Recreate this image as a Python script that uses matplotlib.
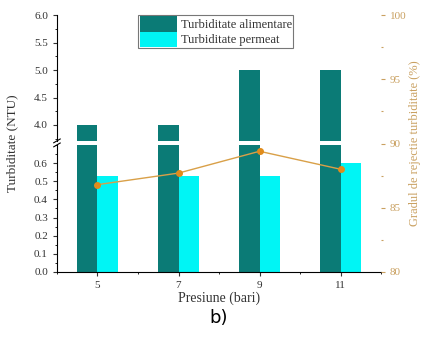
import numpy as np
import matplotlib
matplotlib.use('Agg')
import matplotlib.pyplot as plt
from matplotlib.ticker import MultipleLocator, FormatStrFormatter

plt.rcParams['font.family'] = ['Liberation Serif', 'DejaVu Serif']

# data
presiune = [5, 7, 9, 11]
turb_alimentare = [4.0, 4.0, 5.0, 5.0]
turb_permeat = [0.53, 0.53, 0.53, 0.60]
grad_rejectie = [86.8, 87.7, 89.4, 88.0]

c_alim = '#0b7b76'
c_perm = '#00f5f5'
c_line = '#d9a048'
c_mark = '#e08c1c'
c_right = '#c9a060'
c_text = '#333333'

fig = plt.figure(figsize=(4.22, 3.37), dpi=100)
ax_low = fig.add_axes([0.135, 0.193, 0.768, 0.377])
ax_high = fig.add_axes([0.135, 0.582, 0.768, 0.373])
ax_r = fig.add_axes([0.135, 0.193, 0.768, 0.762], frameon=False)

w = 0.5
for ax in (ax_low, ax_high):
    ax.bar(presiune, turb_alimentare, width=w, align='edge', color=c_alim,
           label='Turbiditate alimentare')
    ax.bar(presiune, turb_permeat, width=w, align='center', color=c_perm,
           label='Turbiditate permeat')
    ax.set_xlim(4, 12)
    ax.spines['top'].set_visible(False)
    ax.spines['right'].set_visible(False)
    ax.tick_params(axis='both', direction='out', length=3, width=0.8,
                   labelsize=8, colors=c_text)
    ax.tick_params(which='minor', length=1.5, width=0.6)

# shift bars so alimentare sits left of tick and permeat right
for ax in (ax_low, ax_high):
    for p in ax.patches[:4]:
        p.set_x(p.get_x() - w)
    for p in ax.patches[4:]:
        p.set_x(p.get_x() + w / 2)

ax_low.set_ylim(0, 0.70)
ax_low.set_yticks([0.0, 0.1, 0.2, 0.3, 0.4, 0.5, 0.6])
ax_low.yaxis.set_minor_locator(MultipleLocator(0.05))
ax_low.yaxis.set_major_formatter(FormatStrFormatter('%.1f'))
ax_low.set_xticks(presiune)
ax_low.xaxis.set_minor_locator(MultipleLocator(1))
ax_low.set_xlabel('Presiune (bari)', fontsize=10, color=c_text, labelpad=1)

ax_high.set_ylim(3.71, 6.0)
ax_high.set_yticks([4.0, 4.5, 5.0, 5.5, 6.0])
ax_high.yaxis.set_minor_locator(MultipleLocator(0.25))
ax_high.yaxis.set_major_formatter(FormatStrFormatter('%.1f'))
ax_high.spines['bottom'].set_visible(False)
ax_high.tick_params(axis='x', which='both', bottom=False, labelbottom=False)

# break marks on left spine
for ax, yy in ((ax_low, 1.0), (ax_high, 0.0)):
    ax.plot([-0.01, 0.01], [yy - 0.015, yy + 0.015], transform=ax.transAxes,
            color='black', lw=0.8, clip_on=False)

fig.text(0.03, 0.575, 'Turbiditate (NTU)', rotation=90, ha='center',
         va='center', fontsize=9.5, color=c_text)

# right axis: rejection degree
ax_r.plot(presiune, grad_rejectie, color=c_line, lw=1.0, marker='o',
          markersize=4, markerfacecolor=c_mark, markeredgecolor=c_mark)
ax_r.set_xlim(4, 12)
ax_r.set_ylim(80, 100)
ax_r.xaxis.set_visible(False)
ax_r.yaxis.tick_right()
ax_r.yaxis.set_label_position('right')
ax_r.spines['right'].set_visible(True)
ax_r.spines['right'].set_color(c_right)
ax_r.yaxis.set_major_locator(MultipleLocator(5))
ax_r.yaxis.set_minor_locator(MultipleLocator(2.5))
ax_r.tick_params(axis='y', which='both', colors=c_right, direction='out',
                 length=3, width=0.8, labelsize=8)
ax_r.tick_params(which='minor', length=1.5)
ax_r.set_ylabel('Gradul de rejectie turbiditate (%)', color=c_right,
                fontsize=9, labelpad=2)

leg = ax_high.legend(loc='upper center', bbox_to_anchor=(0.49, 1.02),
                     fontsize=9, frameon=True, fancybox=False,
                     handlelength=3.0, handleheight=1.5, labelspacing=0.0,
                     borderpad=0.1, handletextpad=0.3, borderaxespad=0.2)
leg.get_frame().set_edgecolor('#555555')
leg.get_frame().set_linewidth(0.8)
for t in leg.get_texts():
    t.set_color(c_text)

fig.text(0.517, 0.056, 'b)', ha='center', va='center', fontsize=13,
         family=['DejaVu Sans'])

fig.savefig('out.png', dpi=100)
